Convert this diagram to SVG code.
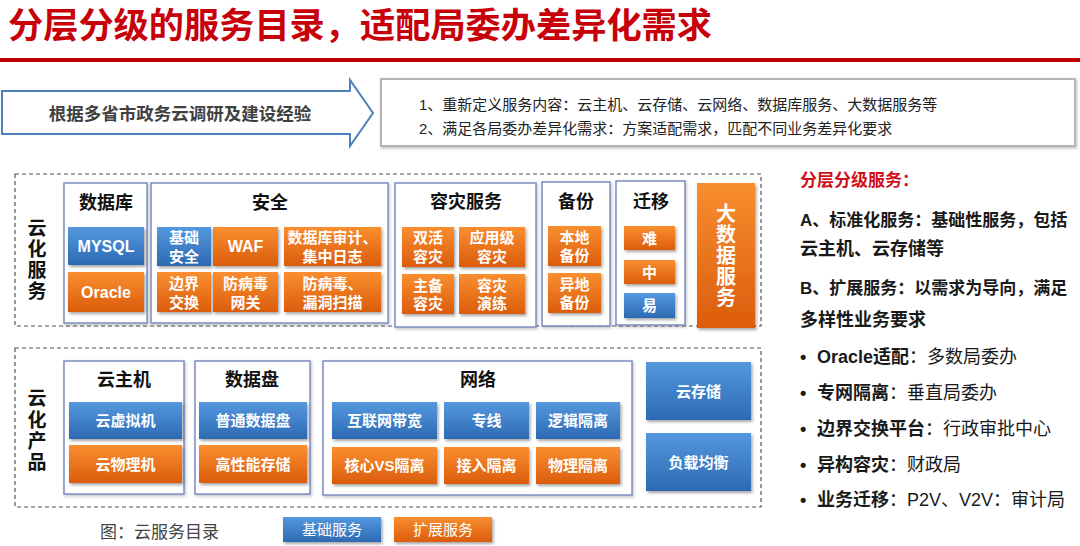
<svg xmlns="http://www.w3.org/2000/svg" width="1080" height="546" viewBox="0 0 1080 546">
<defs>
<linearGradient id="gb" x1="0" y1="0" x2="0" y2="1"><stop offset="0" stop-color="#5598e0"/><stop offset="1" stop-color="#2c6ab2"/></linearGradient>
<linearGradient id="go" x1="0" y1="0" x2="0" y2="1"><stop offset="0" stop-color="#f98e30"/><stop offset="1" stop-color="#dc5c0c"/></linearGradient>
<filter id="sh" x="-20%" y="-20%" width="140%" height="150%"><feDropShadow dx="1.5" dy="2" stdDeviation="1.5" flood-color="#000" flood-opacity="0.35"/></filter>
<filter id="sh2" x="-5%" y="-5%" width="110%" height="115%"><feDropShadow dx="1" dy="1.5" stdDeviation="1.5" flood-color="#000" flood-opacity="0.25"/></filter>
<style>
text{font-family:"Liberation Sans","Noto Sans CJK SC",sans-serif}
.grp{fill:#fff;stroke:#7d8cc2;stroke-width:1.5;filter:url(#sh2)}
.b{fill:url(#gb);filter:url(#sh)}
.o{fill:url(#go);filter:url(#sh)}
.w{fill:#fff;font-weight:bold;font-size:15px;text-anchor:middle;dominant-baseline:central}
.ws{fill:#fff;font-weight:bold;font-size:16px;text-anchor:middle;dominant-baseline:central}
.big{fill:#fff;font-weight:bold;font-size:20px;text-anchor:middle;dominant-baseline:central}
.gt{fill:#111;font-weight:bold;font-size:18px;text-anchor:middle;dominant-baseline:central}
.vt{fill:#111;font-weight:bold;font-size:19px;text-anchor:middle;dominant-baseline:central}
.dash{fill:none;stroke:#555;stroke-width:1.2;stroke-dasharray:4 3}
.rt{fill:#1a1a1a;font-size:18px;font-weight:bold;dominant-baseline:central}
.rs{fill:#1a1a1a;font-size:17px;font-weight:bold;dominant-baseline:central}
.rn{font-weight:normal}
.lg{fill:#fff;font-size:15px;text-anchor:middle;dominant-baseline:central}
</style>
</defs>
<rect width="1080" height="546" fill="#fff"/>
<g id="title">
<text x="8" y="38" font-size="35" font-weight="bold" fill="#c8000a" textLength="704" lengthAdjust="spacingAndGlyphs">分层分级的服务目录，适配局委办差异化需求</text>
<rect x="0" y="58" width="1080" height="4" fill="#c00000"/>
</g>
<g id="arrow">
<path d="M2,91 L350,91 L350,80 L373,113 L350,146 L350,134 L2,134 Z" fill="#fff" stroke="#4f7fbd" stroke-width="2"/>
<text x="180" y="114" font-size="17.5" font-weight="bold" fill="#404040" text-anchor="middle" dominant-baseline="central">根据多省市政务云调研及建设经验</text>
</g>
<g id="summary">
<rect x="381" y="79" width="694" height="67" fill="#fff" stroke="#b5b5b5" stroke-width="2" filter="url(#sh2)"/>
<text x="419" y="104" font-size="15" fill="#222" dominant-baseline="central">1、重新定义服务内容：云主机、云存储、云网络、数据库服务、大数据服务等</text>
<text x="419" y="128" font-size="15" fill="#222" dominant-baseline="central">2、满足各局委办差异化需求：方案适配需求，匹配不同业务差异化要求</text>
</g>
<g id="connectors"></g>
<g id="cloud-service">
<rect class="dash" x="15" y="174" width="746" height="152"/>
<text class="vt"><tspan x="37" y="228">云</tspan><tspan x="37" y="249">化</tspan><tspan x="37" y="270">服</tspan><tspan x="37" y="291">务</tspan></text>
</g>
<g id="grp-db">
<rect class="grp" x="64" y="183" width="83" height="140"/>
<text class="gt" x="106" y="203">数据库</text>
<rect class="b" x="68" y="227" width="76" height="38"/><text class="ws" x="106" y="246">MYSQL</text>
<rect class="o" x="68" y="272" width="76" height="40"/><text class="ws" x="106" y="292">Oracle</text>
</g>
<g id="grp-sec">
<rect class="grp" x="151" y="183" width="237" height="140"/>
<text class="gt" x="270" y="203">安全</text>
<rect class="b" x="157" y="227" width="54" height="39"/><text class="w" x="184" y="237">基础</text><text class="w" x="184" y="256">安全</text>
<rect class="o" x="213" y="227" width="65" height="39"/><text class="ws" x="245.5" y="246.5">WAF</text>
<rect class="o" x="284" y="227" width="97" height="39"/><text class="w" x="332.5" y="237">数据库审计、</text><text class="w" x="332.5" y="256">集中日志</text>
<rect class="o" x="157" y="272" width="54" height="40"/><text class="w" x="184" y="283">边界</text><text class="w" x="184" y="302">交换</text>
<rect class="o" x="213" y="272" width="65" height="40"/><text class="w" x="245.5" y="283">防病毒</text><text class="w" x="245.5" y="302">网关</text>
<rect class="o" x="284" y="272" width="97" height="40"/><text class="w" x="332.5" y="283">防病毒、</text><text class="w" x="332.5" y="302">漏洞扫描</text>
</g>
<g id="grp-dr">
<rect class="grp" x="395" y="183" width="141" height="144"/>
<text class="gt" x="466" y="202">容灾服务</text>
<rect class="o" x="402" y="227" width="52" height="40"/><text class="w" x="428" y="237">双活</text><text class="w" x="428" y="256">容灾</text>
<rect class="o" x="459" y="227" width="66" height="40"/><text class="w" x="492" y="237">应用级</text><text class="w" x="492" y="256">容灾</text>
<rect class="o" x="402" y="274" width="52" height="40"/><text class="w" x="428" y="285">主备</text><text class="w" x="428" y="303">容灾</text>
<rect class="o" x="459" y="274" width="66" height="40"/><text class="w" x="492" y="285">容灾</text><text class="w" x="492" y="303">演练</text>
</g>
<g id="grp-backup">
<rect class="grp" x="542" y="182" width="68" height="144"/>
<text class="gt" x="576" y="202">备份</text>
<rect class="o" x="548" y="226" width="53" height="40"/><text class="w" x="574.5" y="237">本地</text><text class="w" x="574.5" y="255">备份</text>
<rect class="o" x="548" y="273" width="53" height="40"/><text class="w" x="574.5" y="284">异地</text><text class="w" x="574.5" y="302">备份</text>
</g>
<g id="grp-migrate">
<rect class="grp" x="616" y="181" width="69" height="144"/>
<text class="gt" x="651" y="202">迁移</text>
<rect class="o" x="624" y="226" width="51" height="24"/><text class="w" x="649.5" y="238">难</text>
<rect class="o" x="624" y="260" width="51" height="24"/><text class="w" x="649.5" y="272">中</text>
<rect class="b" x="624" y="293" width="51" height="25"/><text class="w" x="649.5" y="305.5">易</text>
</g>
<g id="bigdata">
<rect class="o" x="697" y="183" width="58" height="145"/>
<text class="big"><tspan x="726" y="214">大</tspan><tspan x="726" y="235">数</tspan><tspan x="726" y="256">据</tspan><tspan x="726" y="277">服</tspan><tspan x="726" y="298">务</tspan></text>
</g>
<g id="cloud-product">
<rect class="dash" x="15" y="348" width="746" height="159"/>
<text class="vt"><tspan x="37" y="398">云</tspan><tspan x="37" y="420">化</tspan><tspan x="37" y="441">产</tspan><tspan x="37" y="462">品</tspan></text>
</g>
<g id="grp-host">
<rect class="grp" x="64" y="361" width="120" height="133"/>
<text class="gt" x="124" y="380">云主机</text>
<rect class="b" x="69" y="402" width="113" height="37"/><text class="w" x="125.5" y="420.5">云虚拟机</text>
<rect class="o" x="69" y="445" width="113" height="38"/><text class="w" x="125.5" y="464">云物理机</text>
</g>
<g id="grp-disk">
<rect class="grp" x="195" y="361" width="115" height="133"/>
<text class="gt" x="252" y="380">数据盘</text>
<rect class="b" x="199" y="402" width="108" height="37"/><text class="w" x="253" y="420.5">普通数据盘</text>
<rect class="o" x="199" y="445" width="108" height="38"/><text class="w" x="253" y="464">高性能存储</text>
</g>
<g id="grp-net">
<rect class="grp" x="323" y="361" width="309" height="134"/>
<text class="gt" x="478" y="380">网络</text>
<rect class="b" x="332" y="402" width="105" height="37"/><text class="w" x="384.5" y="420.5">互联网带宽</text>
<rect class="b" x="444" y="402" width="85" height="37"/><text class="w" x="486.5" y="420.5">专线</text>
<rect class="b" x="536" y="402" width="84" height="37"/><text class="w" x="578" y="420.5">逻辑隔离</text>
<rect class="o" x="332" y="447" width="105" height="37"/><text class="w" x="384.5" y="465.5">核心VS隔离</text>
<rect class="o" x="444" y="447" width="85" height="37"/><text class="w" x="486.5" y="465.5">接入隔离</text>
<rect class="o" x="536" y="447" width="84" height="37"/><text class="w" x="578" y="465.5">物理隔离</text>
</g>
<g id="storage">
<rect class="b" x="646" y="362" width="105" height="58"/><text class="w" x="698.5" y="391">云存储</text>
</g>
<g id="lb">
<rect class="b" x="646" y="433" width="105" height="58"/><text class="w" x="698.5" y="462">负载均衡</text>
</g>
<g id="legend">
<text x="100" y="532" font-size="17" fill="#444" dominant-baseline="central">图：云服务目录</text>
<rect class="b" x="283" y="517" width="98" height="25"/><text class="lg" x="332" y="529.5">基础服务</text>
<rect class="o" x="394" y="517" width="98" height="25"/><text class="lg" x="443" y="529.5">扩展服务</text>
</g>
<g id="notes">
<text x="800" y="180" font-size="17" font-weight="bold" fill="#d0101a" dominant-baseline="central">分层分级服务：</text>
<text class="rs" x="800" y="220">A、标准化服务：基础性服务，包括</text>
<text class="rt" x="800" y="249">云主机、云存储等</text>
<text class="rs" x="800" y="288">B、扩展服务：以需求为导向，满足</text>
<text class="rt" x="800" y="320">多样性业务要求</text>
<text class="rt" x="800" y="357">•</text><text class="rt" x="817" y="357">Oracle适配<tspan class="rn">：多数局委办</tspan></text>
<text class="rt" x="800" y="393">•</text><text class="rt" x="817" y="393">专网隔离<tspan class="rn">：垂直局委办</tspan></text>
<text class="rt" x="800" y="429">•</text><text class="rt" x="817" y="429">边界交换平台<tspan class="rn">：行政审批中心</tspan></text>
<text class="rt" x="800" y="465">•</text><text class="rt" x="817" y="465">异构容灾<tspan class="rn">：财政局</tspan></text>
<text class="rt" x="800" y="500">•</text><text class="rt" x="817" y="500">业务迁移<tspan class="rn">：P2V、V2V：审计局</tspan></text>
</g>
</svg>
